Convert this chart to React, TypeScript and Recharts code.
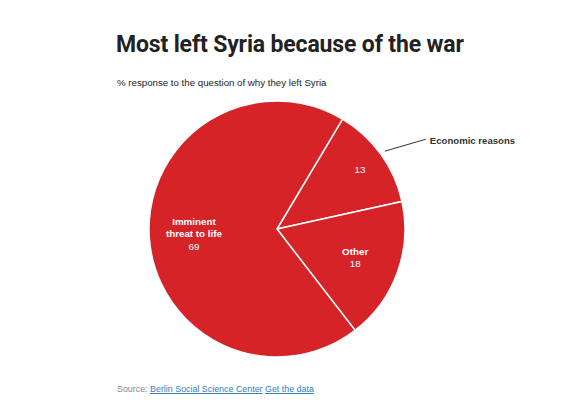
import React from 'react'
import { PieChart, Pie, Cell } from 'recharts'

const reasons = ['Economic reasons', 'Other', 'Imminent threat to life']
const shares = [13, 18, 69]
const insideNames = ['', 'Other', 'Imminent\nthreat to life']

const pieData = reasons.map((name, i) => ({ name, value: shares[i], inside: insideNames[i] }))

const RED = '#d52328'
const RADIAN = Math.PI / 180

const renderLabel = (props: any) => {
  const { cx, cy, midAngle, outerRadius, index, payload } = props
  const cos = Math.cos(-midAngle * RADIAN)
  const sin = Math.sin(-midAngle * RADIAN)
  const labelFont = '"Liberation Sans", Arial, sans-serif'

  // the small slice gets its number pushed out a bit and a callout for the name
  if (index === 0) {
    const r = outerRadius * 0.8
    const x = cx + r * cos
    const y = cy + r * sin
    const sx = cx + (outerRadius + 5) * cos
    const sy = cy + (outerRadius + 5) * sin
    const ex = sx + 41
    const ey = sy - 12
    return (
      <g>
        <text x={x} y={y} textAnchor="middle" dominantBaseline="central" fill="#fff" fontSize={9.8} fontFamily={labelFont}>
          {payload.value}
        </text>
        <path d={`M${sx},${sy}L${ex},${ey}`} stroke="#333" strokeWidth={1} fill="none" />
        <text x={ex + 4} y={ey + 1} dominantBaseline="central" fill="#333" fontSize={9.6} fontWeight={700} fontFamily={labelFont}>
          {payload.name}
        </text>
      </g>
    )
  }

  const r = outerRadius * 0.65
  const x = cx + r * cos
  const y = cy + r * sin
  const lines: string[] = String(payload.inside).split('\n')
  const lh = 12.5
  // centre the name lines plus the number line on the label point
  const top = y - ((lines.length + 1) * lh) / 2 + lh / 2
  return (
    <text textAnchor="middle" fill="#fff" fontSize={9.8} fontFamily={labelFont}>
      {lines.map((l, i) => (
        <tspan key={i} x={x} y={top + i * lh} dominantBaseline="central" fontWeight={700}>{l}</tspan>
      ))}
      <tspan x={x} y={top + lines.length * lh} dominantBaseline="central">{payload.value}</tspan>
    </text>
  )
}

export default function App() {
  return (
    <div style={{ position: 'absolute', left: 0, top: 0, width: 584, height: 408, background: '#fff', fontFamily: '"Liberation Sans", Arial, sans-serif' }}>
      <div style={{ position: 'absolute', left: 116, top: 31, fontFamily: 'Roboto, sans-serif', fontWeight: 700, fontSize: 23, color: '#222', letterSpacing: -0.15, whiteSpace: 'nowrap' }}>
        Most left Syria because of the war
      </div>
      <div style={{ position: 'absolute', left: 117, top: 77, fontSize: 9.7, color: '#222', whiteSpace: 'nowrap' }}>
        % response to the question of why they left Syria
      </div>
      <div style={{ position: 'absolute', left: 0, top: 0 }}>
        <PieChart width={584} height={408} margin={{ top: 0, right: 0, bottom: 0, left: 0 }}>
          <Pie
            data={pieData}
            dataKey="value"
            nameKey="name"
            cx={277}
            cy={229}
            innerRadius={0}
            outerRadius={128}
            startAngle={59.2}
            endAngle={-300.8}
            stroke="#fff"
            strokeWidth={1.5}
            label={renderLabel}
            labelLine={false}
            isAnimationActive={false}
          >
            {pieData.map((entry, index) => (
              <Cell key={`cell-${index}`} fill={RED} />
            ))}
          </Pie>
        </PieChart>
      </div>
      <div style={{ position: 'absolute', left: 117, top: 384, fontSize: 8.9, color: '#888', whiteSpace: 'nowrap' }}>
        Source: <span style={{ color: '#2f7fc1', textDecoration: 'underline' }}>Berlin Social Science Center</span>{' '}
        <span style={{ color: '#2f7fc1', textDecoration: 'underline' }}>Get the data</span>
      </div>
    </div>
  )
}
